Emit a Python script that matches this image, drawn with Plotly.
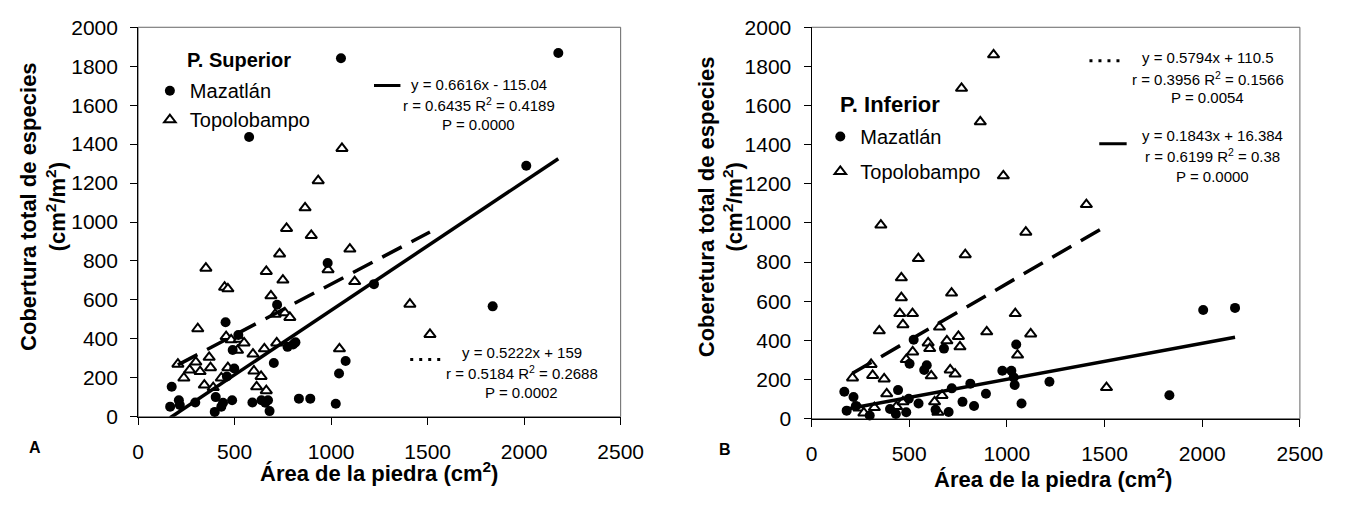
import plotly.graph_objects as go

# ---------------- data ----------------
# Panel A: P. Superior
a_maz_x = [982, 1222, 720, 453, 519, 490, 774, 803, 815, 703, 1075, 1041, 498, 460, 174, 166, 211, 216,
           296, 402, 397, 431, 440, 487, 592, 639, 659, 673, 681, 833, 892, 1024, 1051, 575, 2177, 2011, 1837]
a_maz_y = [790, 681, 575, 485, 420, 343, 359, 371, 382, 276, 286, 222, 248, 207, 154, 52, 85, 60,
           73, 101, 25, 52, 72, 85, 73, 85, 72, 85, 29, 93, 93, 67, 1841, 1437, 1868, 1289, 567]
a_top_x = [865, 769, 897, 1097, 733, 351, 984, 664, 750, 1122, 448, 465, 688, 1408, 710, 760, 786, 309,
           456, 482, 524, 549, 515, 595, 654, 718, 1043, 206, 299, 368, 267, 321, 375, 465, 600, 637,
           237, 431, 343, 389, 614, 664, 1056, 933, 1512]
a_top_y = [1073, 967, 931, 861, 836, 763, 755, 746, 702, 694, 665, 657, 621, 578, 526, 534, 510, 452,
           412, 395, 398, 379, 341, 322, 349, 379, 349, 270, 281, 305, 240, 232, 252, 252, 235, 207,
           199, 199, 163, 150, 154, 134, 1378, 1212, 423]

# Panel B: P. Inferior
b_maz_x = [523, 1048, 678, 502, 590, 577, 977, 1023, 1035, 1040, 1218, 813, 718, 893, 443, 168, 215,
           498, 548, 773, 832, 1075, 180, 227, 402, 432, 485, 298, 702, 635, 2005, 2168, 1832]
b_maz_y = [403, 379, 358, 281, 273, 249, 245, 245, 211, 172, 189, 179, 155, 127, 146, 138, 111,
           102, 78, 86, 65, 78, 41, 65, 49, 24, 33, 16, 34, 45, 555, 566, 120]
b_top_x = [355, 1097, 547, 787, 460, 460, 717, 452, 517, 468, 347, 655, 1043, 897, 1122, 597, 605,
           693, 752, 760, 518, 485, 305, 210, 313, 372, 613, 710, 735, 1055, 385, 243, 322, 435, 468,
           630, 647, 668, 268, 1407, 932, 768, 864, 982, 1510]
b_top_y = [989, 953, 818, 838, 720, 618, 642, 537, 537, 480, 449, 468, 537, 444, 433, 387, 358,
           398, 420, 367, 341, 302, 277, 208, 221, 203, 219, 249, 228, 325, 127, 54, 57, 62, 86,
           86, 33, 119, 29, 1094, 1859, 1688, 1517, 1241, 159]

# regression coefficients (slope, intercept) as printed on the chart
a_maz_fit = (0.6616, -115.04)
a_top_fit = (0.5222, 159.0)
b_maz_fit = (0.1843, 16.384)
b_top_fit = (0.5794, 110.5)

a_maz_eq = ["y = 0.6616x - 115.04", "r = 0.6435 R<sup>2</sup> = 0.4189", "P = 0.0000"]
a_top_eq = ["y = 0.5222x + 159", "r = 0.5184 R<sup>2</sup> = 0.2688", "P = 0.0002"]
b_top_eq = ["y = 0.5794x + 110.5", "r = 0.3956 R<sup>2</sup> = 0.1566", "P = 0.0054"]
b_maz_eq = ["y = 0.1843x + 16.384", "r = 0.6199 R<sup>2</sup> = 0.38", "P = 0.0000"]

x_ticks = [0, 500, 1000, 1500, 2000, 2500]
y_ticks = [0, 200, 400, 600, 800, 1000, 1200, 1400, 1600, 1800, 2000]

# ---------------- figure ----------------
W, H = 1364, 507
FONT = "Liberation Sans, Arial, sans-serif"


def px(x):
    return x / W


def py(y):
    return 1 - y / H


def fit_line(xs, coef):
    x0, x1 = min(xs), max(xs)
    return [x0, x1], [coef[0] * x0 + coef[1], coef[0] * x1 + coef[1]]


fig = go.Figure()

tri = dict(symbol="triangle-up", size=10, color="white", line=dict(color="black", width=2))
dot = dict(symbol="circle", size=10, color="black")

for (tx, ty, mx, my, xa, ya, lg, tfit, mfit) in [
    (a_top_x, a_top_y, a_maz_x, a_maz_y, "x", "y", "legend", a_top_fit, a_maz_fit),
    (b_top_x, b_top_y, b_maz_x, b_maz_y, "x2", "y2", "legend2", b_top_fit, b_maz_fit),
]:
    fig.add_trace(go.Scatter(x=tx, y=ty, mode="markers", marker=tri, name="Topolobampo",
                             xaxis=xa, yaxis=ya, legend=lg, legendrank=2, legendgroup=lg + "t",
                             cliponaxis=False))
    fig.add_trace(go.Scatter(x=mx, y=my, mode="markers", marker=dot, name="Mazatlán",
                             xaxis=xa, yaxis=ya, legend=lg, legendrank=1, legendgroup=lg + "m",
                             cliponaxis=False))
    lx, ly = fit_line(tx, tfit)
    fig.add_trace(go.Scatter(x=lx, y=ly, mode="lines", line=dict(color="black", width=3.5, dash="22px,11px"),
                             xaxis=xa, yaxis=ya, showlegend=False, hoverinfo="skip"))
    lx, ly = fit_line(mx, mfit)
    fig.add_trace(go.Scatter(x=lx, y=ly, mode="lines", line=dict(color="black", width=3.5),
                             xaxis=xa, yaxis=ya, showlegend=False, hoverinfo="skip"))

axis_common = dict(showgrid=False, zeroline=False, showline=True, linecolor="black", linewidth=1,
                   ticks="outside", tickcolor="black", tickwidth=1,
                   tickfont=dict(family=FONT, size=21, color="black"))

fig.update_layout(
    width=W, height=H,
    margin=dict(l=0, r=0, t=0, b=0),
    paper_bgcolor="white", plot_bgcolor="white",
    font=dict(family=FONT, color="black"),
    xaxis=dict(domain=[px(135), px(628)], range=[0, 2500], tickvals=x_ticks, ticklen=7,
               ticklabelstandoff=9, anchor="y", **axis_common),
    yaxis=dict(domain=[py(424), py(16)], range=[0, 2000], tickvals=y_ticks, ticklen=7,
               ticklabelstandoff=8, anchor="x", **axis_common),
    xaxis2=dict(domain=[px(823), px(1322)], range=[0, 2500], tickvals=x_ticks, ticklen=7,
                ticklabelstandoff=9, anchor="y2", **axis_common),
    yaxis2=dict(domain=[py(426), py(16)], range=[0, 2000], tickvals=y_ticks, ticklen=7,
                ticklabelstandoff=8, anchor="x2", **axis_common),
    legend=dict(x=px(147), y=py(62), xanchor="left", yanchor="top", bgcolor="rgba(0,0,0,0)",
                font=dict(family=FONT, size=20), borderwidth=0, tracegroupgap=0),
    legend2=dict(x=px(832), y=py(110), xanchor="left", yanchor="top", bgcolor="rgba(0,0,0,0)",
                 font=dict(family=FONT, size=20), borderwidth=0, tracegroupgap=6),
    showlegend=True,
)

shapes = []
for xr, yr in [("x domain", "y domain"), ("x2 domain", "y2 domain")]:
    shapes.append(dict(type="rect", xref=xr, yref=yr, x0=0, x1=1, y0=0, y1=1,
                       line=dict(color="#666666", width=1), layer="below"))
# small line glyphs next to the equations
for (x0, x1, y, dash) in [(376, 403, 77, "solid"), (413, 445, 364, "3px,6px"),
                          (1107, 1140, 51, "3px,6px"), (1117, 1145, 138, "solid")]:
    shapes.append(dict(type="line", xref="paper", yref="paper", x0=px(x0), x1=px(x1), y0=py(y), y1=py(y),
                       line=dict(color="black", width=3, dash=dash)))
fig.update_layout(shapes=shapes)

ann = []


def text(x, y, s, size, xanchor="center", angle=0, bold=False):
    ann.append(dict(x=px(x), y=py(y), xref="paper", yref="paper", text=("<b>%s</b>" % s) if bold else s,
                    showarrow=False, xanchor=xanchor, yanchor="middle", textangle=angle,
                    font=dict(family=FONT, size=size, color="black")))


for lines, cx, ys in [(a_maz_eq, 483, [76, 97, 118]), (a_top_eq, 527, [357, 378, 399]),
                      (b_top_eq, 1228, [48, 70, 90]), (b_maz_eq, 1233, [129, 150, 172])]:
    for s, y in zip(lines, ys):
        text(cx, y, s, 15)

text(183, 50, "P. Superior", 20, xanchor="left", bold=True)
text(850, 97, "P. Inferior", 22, xanchor="left", bold=True)

text(381, 482, "Área de la piedra (cm<sup>2</sup>)", 22, bold=True)
text(1070, 488, "Área de la piedra (cm<sup>2</sup>)", 22, bold=True)
text(38, 204, "Cobertura total de especies<br>(cm<sup>2</sup>/m<sup>2</sup>)", 22, angle=-90, bold=True)
text(730, 204, "Coberetura total de especies<br>(cm<sup>2</sup>/m<sup>2</sup>)", 22, angle=-90, bold=True)
text(30, 456, "A", 16, bold=True)
text(735, 458, "B", 16, bold=True)

fig.update_layout(annotations=ann)

# the page body has a default 8px margin; remove it so the figure fills the window exactly
fig.write_html("out.html", config={"displayModeBar": False},
               post_script="document.body.style.margin='0px';document.body.style.overflow='hidden';")
